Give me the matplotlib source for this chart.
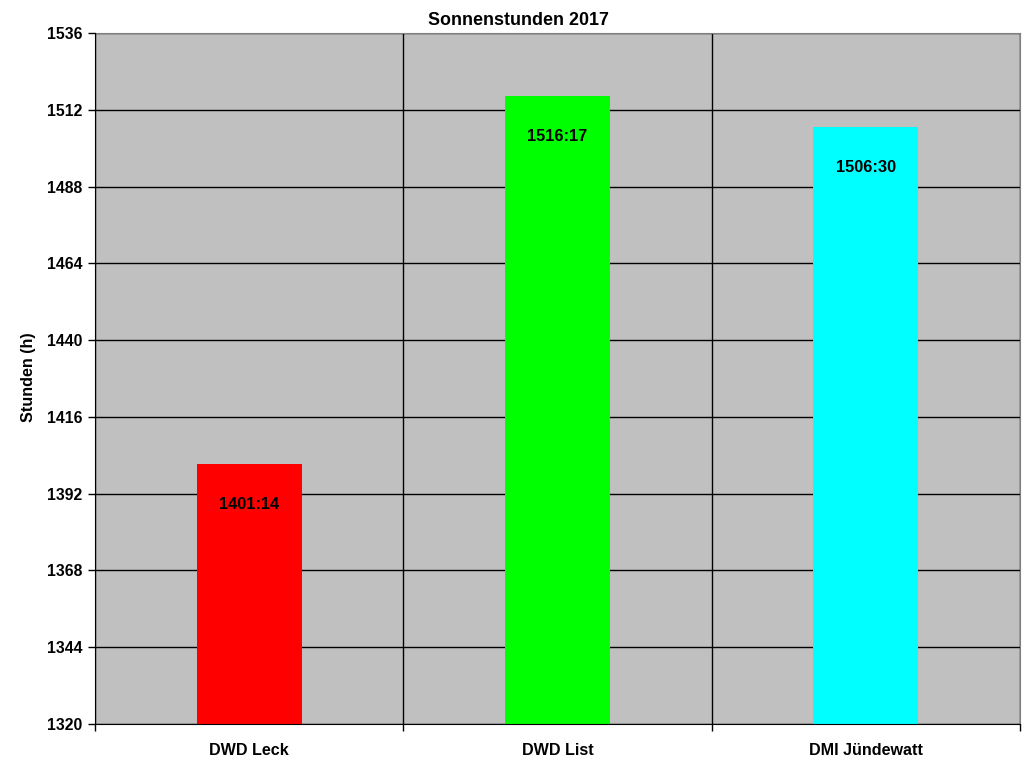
import numpy as np
import matplotlib.pyplot as plt

plt.rcParams['font.family'] = ['Liberation Sans', 'DejaVu Sans']
plt.rcParams['font.weight'] = 'bold'

stations = ['DWD Leck', 'DWD List', 'DMI Jündewatt']
hours = [1401, 1516, 1506]
minutes = [14, 17, 30]
colors = ['#ff0000', '#00ff00', '#00ffff']
yticks = [1320, 1344, 1368, 1392, 1416, 1440, 1464, 1488, 1512, 1536]

values = [h + m / 60 for h, m in zip(hours, minutes)]
labels = ['%d:%02d' % (h, m) for h, m in zip(hours, minutes)]
x = np.arange(len(stations))

fig = plt.figure(figsize=(10.24, 7.68), dpi=100)
ax = fig.add_axes([95 / 1024, 44 / 768, 925 / 1024, 691 / 768])
ax.set_facecolor('#c0c0c0')

bars = ax.bar(x, values, width=0.34, color=colors, zorder=3)
for xi, v, lab in zip(x, values, labels):
    ax.annotate(lab, (xi, v), xytext=(0, -40), textcoords='offset pixels',
                ha='center', va='center', fontsize=11.8, fontweight='bold', zorder=4)

ax.set_ylim(yticks[0], yticks[-1])
ax.set_yticks(yticks)
ax.set_xlim(-0.5, len(stations) - 0.5)
ax.set_xticks(x)
ax.set_xticklabels(stations)
ax.set_xticks(np.arange(len(stations) + 1) - 0.5, minor=True)

ax.grid(axis='y', which='major', color='black', linewidth=1, zorder=1)
ax.grid(axis='x', which='minor', color='black', linewidth=1, zorder=1)
ax.set_axisbelow(True)

ax.tick_params(axis='x', which='major', length=0, pad=14, labelsize=11.6)
ax.tick_params(axis='x', which='minor', length=5, width=1, direction='out')
ax.tick_params(axis='y', length=5, width=1, direction='out', labelsize=11.3, pad=4)

for s in ['top', 'right']:
    ax.spines[s].set_color('#808080')
for s in ['left', 'bottom']:
    ax.spines[s].set_color('black')
    ax.spines[s].set_zorder(5)

fig.text(518 / 1024, 1 - 20.5 / 768, 'Sonnenstunden 2017', fontsize=12.9,
         fontweight='bold', ha='center', va='center')
fig.text(29 / 1024, 1 - 377 / 768, 'Stunden (h)', fontsize=11.6,
         fontweight='bold', ha='center', va='center', rotation=90)

fig.savefig('out.png', dpi=100)
